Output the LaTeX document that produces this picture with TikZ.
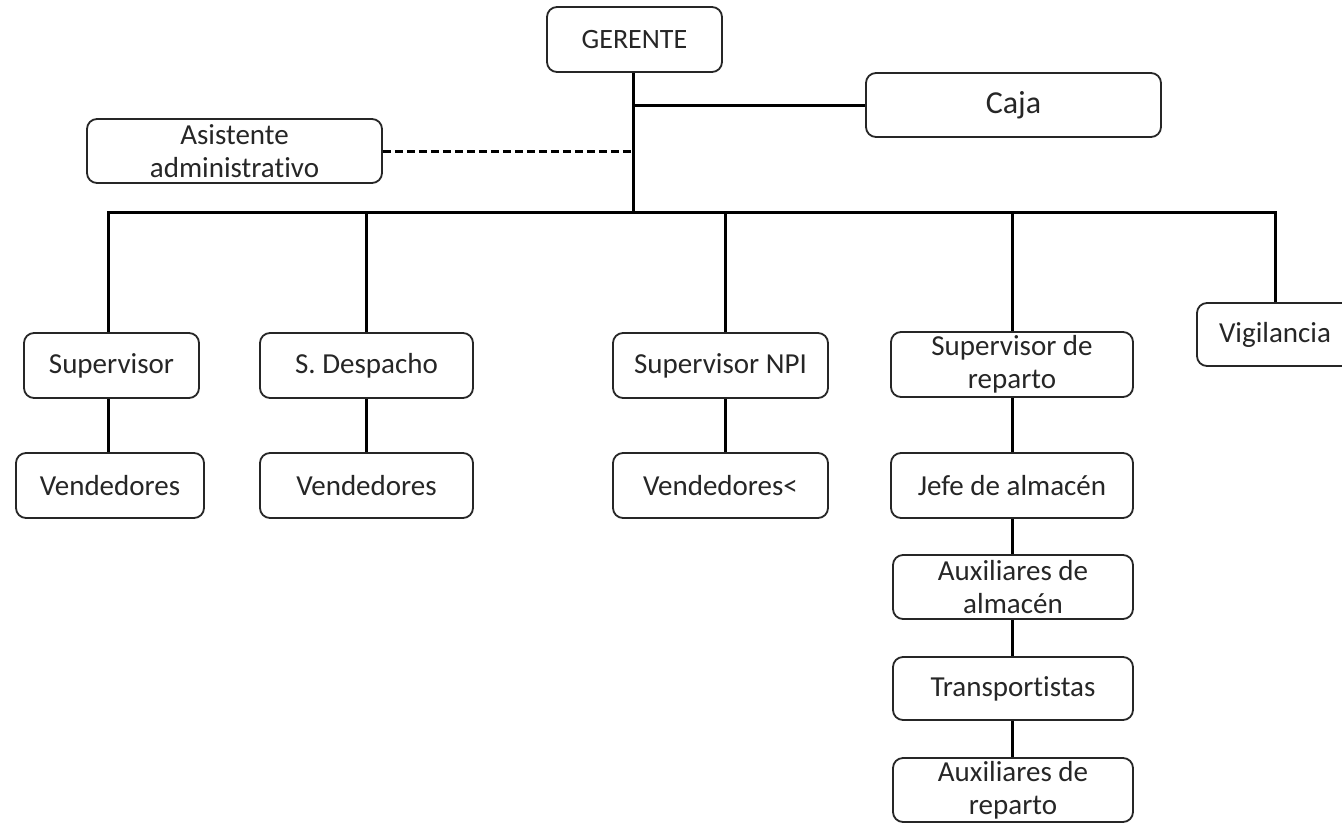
\documentclass[tikz,border=0pt]{standalone}
\usepackage{fontspec}
\setmainfont{Carlito}[Ligatures=NoCommon]
\begin{document}
\begin{tikzpicture}[x=1pt,y=-1pt,
  box/.style={draw=black!85, line width=1.8pt, rounded corners=10pt, inner sep=0pt,
    align=center, text=black!85, font=\fontsize{29}{33}\selectfont},
  link/.style={line width=3pt, black},
  dlink/.style={line width=3pt, black, dash pattern=on 8pt off 4pt}]
\useasboundingbox (0,0) rectangle (1342,823);
\clip (0,0) rectangle (1342,823);
% boxes: center, width, height
\node[box, minimum width=175pt, minimum height=65pt, font=\fontsize{28}{32}\selectfont] (ger) at (634.5,39.5) {GERENTE};
\node[box, minimum width=295pt, minimum height=64pt, font=\fontsize{32}{36}\selectfont] (caja) at (1013.5,105) {Caja};
\node[box, minimum width=295pt, minimum height=64pt] (asis) at (234.5,151) {Asistente\\administrativo};
\node[box, minimum width=175pt, minimum height=65pt] (sup) at (111.5,365.5) {Supervisor};
\node[box, minimum width=188pt, minimum height=65pt] (v1) at (110,485.5) {Vendedores};
\node[box, minimum width=213pt, minimum height=65pt] (desp) at (366.5,365.5) {S. Despacho};
\node[box, minimum width=213pt, minimum height=65pt] (v2) at (366.5,485.5) {Vendedores};
\node[box, minimum width=215pt, minimum height=65pt] (npi) at (720.5,365.5) {Supervisor NPI};
\node[box, minimum width=215pt, minimum height=65pt] (v3) at (720.5,485.5) {Vendedores<};
\node[box, minimum width=242pt, minimum height=65pt] (srep) at (1012,364.5) {Supervisor de\\reparto};
\node[box, minimum width=242pt, minimum height=65pt] (jefe) at (1012,485.5) {Jefe de almacén};
\node[box, minimum width=240pt, minimum height=64pt] (auxa) at (1013,587) {Auxiliares de\\almacén};
\node[box, minimum width=240pt, minimum height=63pt] (trans) at (1013,688.5) {Transportistas};
\node[box, minimum width=240pt, minimum height=64pt] (auxr) at (1013,790) {Auxiliares de\\reparto};
\node[box, minimum width=156pt, minimum height=63pt] (vig) at (1275,334.5) {Vigilancia};
% connectors
\coordinate (t1) at (633,105);
\coordinate (t2) at (633,151);
\coordinate (t3) at (633,212);
\coordinate (b1) at (108,212);
\coordinate (b2) at (366,212);
\coordinate (b3) at (725,212);
\coordinate (b4) at (1012,212);
\coordinate (b5) at (1275,212);
\draw[link] (ger.south -| t3) -- (t3);
\draw[link] (t1) -- (caja.west);
\draw[dlink] (asis.east) -- (t2);
\draw[link, line cap=rect] (b1) -- (b5);
\draw[link] (b1) -- (b1 |- sup.north);
\draw[link] (b1 |- sup.south) -- (b1 |- v1.north);
\draw[link] (b2) -- (b2 |- desp.north);
\draw[link] (b2 |- desp.south) -- (b2 |- v2.north);
\draw[link] (b3) -- (b3 |- npi.north);
\draw[link] (b3 |- npi.south) -- (b3 |- v3.north);
\draw[link] (b4) -- (b4 |- srep.north);
\draw[link] (b4 |- srep.south) -- (b4 |- jefe.north);
\draw[link] (b4 |- jefe.south) -- (b4 |- auxa.north);
\draw[link] (b4 |- auxa.south) -- (b4 |- trans.north);
\draw[link] (b4 |- trans.south) -- (b4 |- auxr.north);
\draw[link] (b5) -- (vig.north);
\end{tikzpicture}
\end{document}
